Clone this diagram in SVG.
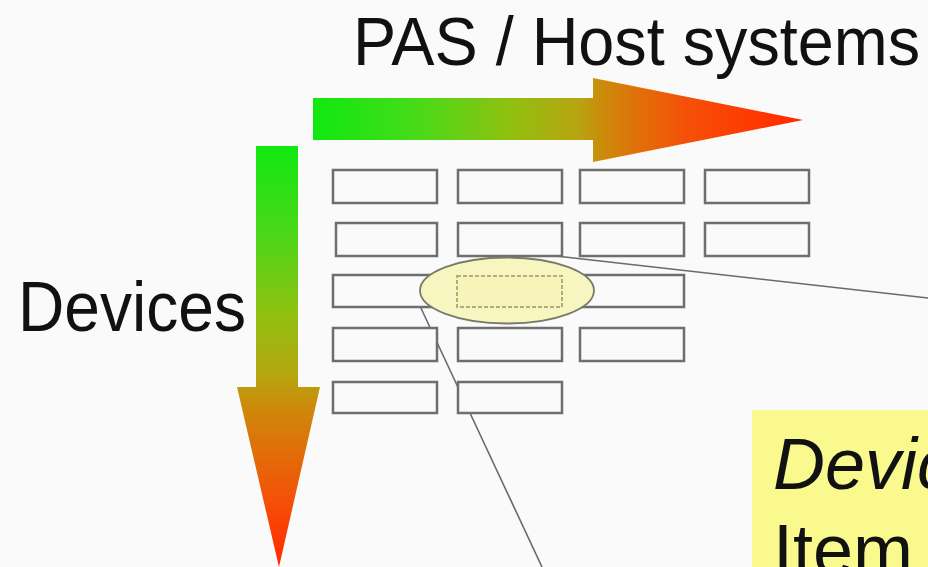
<svg xmlns="http://www.w3.org/2000/svg" width="928" height="567" viewBox="0 0 928 567">
  <defs>
    <linearGradient id="gH" gradientUnits="userSpaceOnUse" x1="313" y1="0" x2="805" y2="0">
      <stop offset="0" stop-color="#10e810"/>
      <stop offset="0.2" stop-color="#44dc18"/>
      <stop offset="0.4" stop-color="#90c010"/>
      <stop offset="0.54" stop-color="#b8a410"/>
      <stop offset="0.59" stop-color="#cc8a0a"/>
      <stop offset="0.66" stop-color="#e07008"/>
      <stop offset="0.76" stop-color="#f55008"/>
      <stop offset="0.9" stop-color="#ff3800"/>
      <stop offset="1" stop-color="#ff2800"/>
    </linearGradient>
    <linearGradient id="gV" gradientUnits="userSpaceOnUse" x1="0" y1="146" x2="0" y2="567">
      <stop offset="0" stop-color="#10e810"/>
      <stop offset="0.2" stop-color="#48d818"/>
      <stop offset="0.4" stop-color="#90c010"/>
      <stop offset="0.55" stop-color="#b8a410"/>
      <stop offset="0.62" stop-color="#cc8a0a"/>
      <stop offset="0.72" stop-color="#e07008"/>
      <stop offset="0.84" stop-color="#f55008"/>
      <stop offset="1" stop-color="#ff2800"/>
    </linearGradient>
  </defs>
  <style>
    .cell { fill: #fafafa; stroke: #6e6e6e; stroke-width: 2.5; }
    .lbl { font-family: "Liberation Sans", Arial, sans-serif; fill: #111; }
    .conn { stroke: #6a6a6a; stroke-width: 1.6; fill: none; }
  </style>
  <rect x="0" y="0" width="928" height="567" fill="#fafafa"/>

  <g id="title">
    <text class="lbl" x="353" y="65" font-size="68" textLength="567" lengthAdjust="spacingAndGlyphs">PAS / Host systems</text>
  </g>
  <g id="devices-label">
    <text class="lbl" x="18" y="331" font-size="70" textLength="228" lengthAdjust="spacingAndGlyphs">Devices</text>
  </g>

  <g id="arrow-host">
    <polygon points="313,98 593,98 593,78 803,120 593,162 593,140 313,140" fill="url(#gH)"/>
  </g>
  <g id="arrow-devices">
    <polygon points="256,146 298,146 298,387 320,387 279,567 237,387 256,387" fill="url(#gV)"/>
  </g>

  <g id="connectors">
    <line class="conn" x1="556" y1="256" x2="928" y2="298"/>
    <line class="conn" x1="420" y1="306" x2="542" y2="567"/>
  </g>

  <g id="grid">
    <rect class="cell" x="333" y="170" width="104" height="33"/>
    <rect class="cell" x="458" y="170" width="104" height="33"/>
    <rect class="cell" x="580" y="170" width="104" height="33"/>
    <rect class="cell" x="705" y="170" width="104" height="33"/>
    <rect class="cell" x="336" y="223" width="101" height="33"/>
    <rect class="cell" x="458" y="223" width="104" height="33"/>
    <rect class="cell" x="580" y="223" width="104" height="33"/>
    <rect class="cell" x="705" y="223" width="104" height="33"/>
    <rect class="cell" x="333" y="275" width="104" height="32"/>
    <rect class="cell" x="580" y="275" width="104" height="32"/>
    <rect class="cell" x="333" y="328" width="104" height="33"/>
    <rect class="cell" x="458" y="328" width="104" height="33"/>
    <rect class="cell" x="580" y="328" width="104" height="33"/>
    <rect class="cell" x="333" y="382" width="104" height="31"/>
    <rect class="cell" x="458" y="382" width="104" height="31"/>
  </g>

  <g id="selected-item">
    <ellipse cx="507" cy="290.5" rx="87" ry="33" fill="#f7f5c0" stroke="#7a7a6a" stroke-width="1.8"/>
    <rect x="457" y="276" width="105" height="31" fill="#f6f4b8" stroke="#b0ae80" stroke-width="2" stroke-dasharray="4,2"/>
  </g>

  <g id="note">
    <rect x="752" y="410" width="176" height="157" fill="#f9f98e"/>
    <text class="lbl" x="773" y="489" font-size="72" font-style="italic">Devic</text>
    <text class="lbl" x="773" y="575" font-size="72">Item</text>
  </g>
</svg>
